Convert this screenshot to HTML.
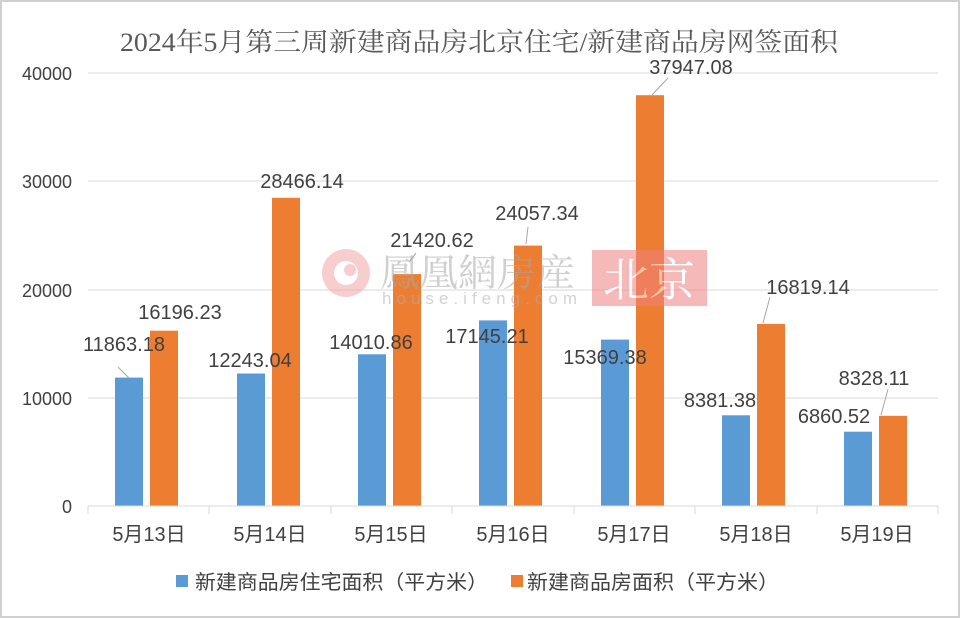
<!DOCTYPE html>
<html><head><meta charset="utf-8"><style>
body{margin:0;background:#fff}
svg{display:block}
</style></head><body>
<svg width="960" height="618" viewBox="0 0 960 618" xmlns="http://www.w3.org/2000/svg" font-family="'Liberation Sans','Noto Sans CJK SC',sans-serif">
<rect x="1" y="1" width="958" height="616" fill="#fff" stroke="#d0d0d0" stroke-width="2"/>
<text x="120" y="51" textLength="718" lengthAdjust="spacingAndGlyphs" font-family="'Liberation Serif','Noto Serif CJK SC',serif" font-size="26" fill="#595959">2024年5月第三周新建商品房北京住宅/新建商品房网签面积</text>
<g stroke="#d9d9d9" stroke-width="1">
<line x1="88" y1="73" x2="938" y2="73"/><line x1="88" y1="181" x2="938" y2="181"/><line x1="88" y1="290" x2="938" y2="290"/><line x1="88" y1="398" x2="938" y2="398"/>
</g>
<g font-size="18" fill="#404040" text-anchor="end">
<text x="72" y="80">40000</text><text x="72" y="188">30000</text><text x="72" y="297">20000</text><text x="72" y="405">10000</text><text x="72" y="513">0</text>
</g>
<g fill="#5b9bd5">
<rect x="115" y="377.6" width="28" height="128.4"/>
<rect x="237" y="373.5" width="28" height="132.5"/>
<rect x="358" y="354.3" width="28" height="151.7"/>
<rect x="479" y="320.4" width="28" height="185.6"/>
<rect x="601" y="339.6" width="28" height="166.4"/>
<rect x="722" y="415.3" width="28" height="90.7"/>
<rect x="844" y="431.7" width="28" height="74.3"/>
</g>
<g fill="#ed7d31">
<rect x="150" y="330.7" width="28" height="175.3"/>
<rect x="272" y="197.8" width="28" height="308.2"/>
<rect x="393" y="274.1" width="28" height="231.9"/>
<rect x="514" y="245.6" width="28" height="260.4"/>
<rect x="636" y="95.2" width="28" height="410.8"/>
<rect x="757" y="323.9" width="28" height="182.1"/>
<rect x="879" y="415.8" width="28" height="90.2"/>
</g>
<line x1="88" y1="506" x2="938" y2="506" stroke="#d9d9d9"/>
<g stroke="#d9d9d9">
<line x1="88" y1="506" x2="88" y2="514"/><line x1="209" y1="506" x2="209" y2="514"/><line x1="331" y1="506" x2="331" y2="514"/><line x1="452" y1="506" x2="452" y2="514"/><line x1="574" y1="506" x2="574" y2="514"/><line x1="695" y1="506" x2="695" y2="514"/><line x1="817" y1="506" x2="817" y2="514"/><line x1="938" y1="506" x2="938" y2="514"/>
</g>
<g stroke="#a6a6a6" stroke-width="1">
<line x1="118" y1="367" x2="129" y2="378"/>
<line x1="668" y1="78" x2="652" y2="95"/>
<line x1="770" y1="297" x2="763" y2="323"/>
<line x1="888" y1="389" x2="881" y2="415"/>
<line x1="416" y1="253" x2="409" y2="262"/>
<line x1="528" y1="227" x2="526" y2="244"/>
</g>
<g opacity="0.55">
<circle cx="346" cy="273" r="24" fill="#f4a5a5"/>
<circle cx="346" cy="273" r="12" fill="#fff"/>
<circle cx="350" cy="270" r="6" fill="#f4a5a5"/>
<text x="380" y="286" font-size="38" textLength="195" lengthAdjust="spacingAndGlyphs" fill="#a8a8a8" font-family="'Noto Serif CJK SC',serif">鳳凰網房産</text>
<text x="382" y="304" font-size="17" textLength="195" lengthAdjust="spacing" fill="#b0b0b0">house.ifeng.com</text>
<rect x="592" y="250" width="115" height="56" fill="#f08080"/>
<text x="649" y="296" text-anchor="middle" font-size="46" fill="#fff" font-family="'Noto Serif CJK SC',serif">北京</text>
</g>
<g font-size="20" fill="#404040" text-anchor="middle">
<text x="124" y="351">11863.18</text>
<text x="180" y="319">16196.23</text>
<text x="250" y="367">12243.04</text>
<text x="302" y="188">28466.14</text>
<text x="371" y="349">14010.86</text>
<text x="432" y="247">21420.62</text>
<text x="487" y="343">17145.21</text>
<text x="537" y="220">24057.34</text>
<text x="605" y="364">15369.38</text>
<text x="691" y="74">37947.08</text>
<text x="720" y="407">8381.38</text>
<text x="808" y="294">16819.14</text>
<text x="834" y="423">6860.52</text>
<text x="874" y="385">8328.11</text>
</g>
<g font-size="20" fill="#404040" text-anchor="middle">
<text x="149" y="541">5月13日</text><text x="270" y="541">5月14日</text><text x="391" y="541">5月15日</text><text x="513" y="541">5月16日</text><text x="634" y="541">5月17日</text><text x="756" y="541">5月18日</text><text x="877" y="541">5月19日</text>
</g>
<rect x="176" y="575" width="12" height="12" fill="#5b9bd5"/>
<text x="195" y="589" font-size="20" textLength="293" lengthAdjust="spacingAndGlyphs" fill="#404040">新建商品房住宅面积（平方米）</text>
<rect x="511" y="575" width="12" height="12" fill="#ed7d31"/>
<text x="527" y="589" font-size="20" textLength="252" lengthAdjust="spacingAndGlyphs" fill="#404040">新建商品房面积（平方米）</text>
</svg>
</body></html>
